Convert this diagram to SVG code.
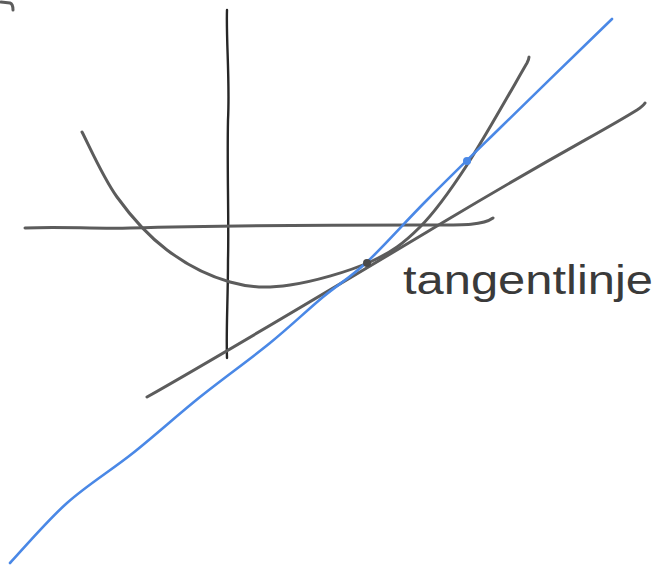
<svg xmlns="http://www.w3.org/2000/svg" width="669" height="566" viewBox="0 0 669 566">
<style>
.pen{fill:none;stroke-linecap:round;stroke-linejoin:round}
.gray{stroke:#5c5c5c;stroke-width:3}
.dark{stroke:#262626;stroke-width:2.4}
.blue{stroke:#4a88e6;stroke-width:2.6}
.label{font-family:"Liberation Sans","DejaVu Sans",sans-serif;font-size:40px;fill:#3a3a3a}
</style>
<rect width="669" height="566" fill="#ffffff"/>
<g id="corner-mark">
<path class="pen gray" d="M1,2 L10,3 Q13,4 13,10"/>
</g>
<g id="axes">
<path id="y-axis" class="pen dark" d="M227,10 C226,40 230,80 228,120 C227,170 229,220 228,260 C228,300 226,330 227,358"/>
<path id="x-axis" class="pen gray" d="M25,228 C60,226 90,229 130,228 C200,226 300,225 420,225 C460,225 482,226 493,218"/>
</g>
<g id="parabola">
<path class="pen gray" d="M82,132 C87.8,142.8 102.8,177.3 117,197 C131.2,216.7 148.2,235.8 167,250 C185.8,264.2 209.5,276.2 230,282 C250.5,287.8 266.7,288.3 290,285 C313.3,281.7 348.3,271.7 370,262 C391.7,252.3 403.8,243.2 420,227 C436.2,210.8 449.2,192.3 467,165 C484.8,137.7 517,80 527,63 Q529,59 529,57"/>
</g>
<g id="connectors">
<path id="secant" class="pen gray" d="M147,397 C230,350 330,290 447,220 S600,133 637,110 Q643,106 645,103"/>
<path id="tangent" class="pen blue" d="M10,563 C19.5,553 46.5,521.3 67,503 C87.5,484.7 110.8,470.7 133,453 C155.2,435.3 177.2,415.3 200,397 C222.8,378.7 249.5,359.7 270,343 C290.5,326.3 306.8,310.5 323,297 C339.2,283.5 349.7,278.2 367,262 C384.3,245.8 404.8,222.3 427,200 C449.2,177.7 469.2,158.2 500,128 C530.8,97.8 593.3,37.2 612,19"/>
<circle cx="467" cy="161" r="4" fill="#4a88e6"/>
<circle cx="367" cy="263" r="4" fill="#4a4a4a"/>
</g>
<g id="label">
<text class="label" x="403" y="294" textLength="250" lengthAdjust="spacingAndGlyphs">tangentlinje</text>
</g>
</svg>
